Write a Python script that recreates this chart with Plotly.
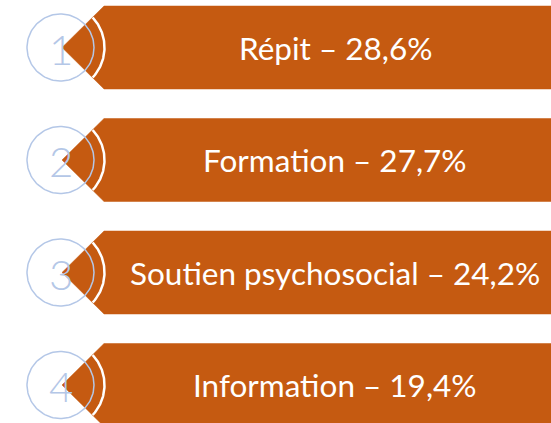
import numpy as np
import plotly.graph_objects as go

# ---- data ----
labels = ["Répit", "Formation", "Soutien psychosocial", "Information"]
values = [28.6, 27.7, 24.2, 19.4]
ranks = ["1", "2", "3", "4"]

# ---- style ----
ORANGE = "#C55A11"
BLUE = "#B4C7E7"
W, H = 551, 423
row0, step, half = 47.5, 112.5, 41.5
rect_left, tip_x = 104, 62
cx, r_circ, r_arc = 60.5, 33.5, 44

fig = go.Figure()
annotations = []
for i, (lab, val, rk) in enumerate(zip(labels, values, ranks)):
    yc = row0 + step * i
    # arrow banner
    fig.add_trace(go.Scatter(
        x=[tip_x, rect_left, W + 5, W + 5, rect_left, tip_x],
        y=[yc, yc - half, yc - half, yc + half, yc + half, yc],
        fill="toself", fillcolor=ORANGE, mode="lines",
        line=dict(color=ORANGE, width=0.5), hoverinfo="skip", showlegend=False))
    # white arc
    a = np.radians(np.linspace(-43, 43, 60))
    fig.add_trace(go.Scatter(
        x=cx + r_arc * np.cos(a), y=yc + r_arc * np.sin(a), mode="lines",
        line=dict(color="white", width=2.5), hoverinfo="skip", showlegend=False))
    # circle outline
    t = np.radians(np.linspace(0, 360, 120))
    fig.add_trace(go.Scatter(
        x=cx + r_circ * np.cos(t), y=yc + r_circ * np.sin(t), mode="lines",
        line=dict(color=BLUE, width=1.5), hoverinfo="skip", showlegend=False))
    annotations.append(dict(
        x=cx, y=yc + 1, xref="x", yref="y", text=rk, showarrow=False,
        font=dict(family="Lato", size=42, color=BLUE, weight=300)))
    txt = f"{lab} – {val:.1f}%".replace(".", ",")
    annotations.append(dict(
        x=335, y=yc, xref="x", yref="y", text=txt, showarrow=False,
        font=dict(family="Lato", size=31.5, color="white")))

fig.update_layout(
    width=W, height=H, margin=dict(l=0, r=0, t=0, b=0),
    paper_bgcolor="white", plot_bgcolor="white",
    xaxis=dict(range=[0, W], visible=False, fixedrange=True),
    yaxis=dict(range=[H, 0], visible=False, fixedrange=True),
    annotations=annotations, showlegend=False)

fig.write_html(
    "out.html",
    config={"staticPlot": True},
    post_script="document.body.style.margin='0';"
                "document.body.style.overflow='hidden';"
                "document.documentElement.style.overflow='hidden';")
